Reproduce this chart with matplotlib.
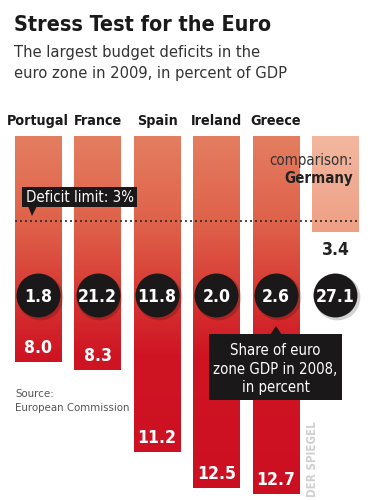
import numpy as np
import matplotlib
matplotlib.use("Agg")
import matplotlib.pyplot as plt
import matplotlib.font_manager as fm
from matplotlib.colors import LinearSegmentedColormap
from matplotlib.patches import Rectangle, Polygon
from matplotlib.transforms import Affine2D

# ---------------- data ----------------
countries = ["Portugal", "France", "Spain", "Ireland", "Greece"]
deficits = [8.0, 8.3, 11.2, 12.5, 12.7]          # budget deficit 2009, % of GDP
gdp_share = [1.8, 21.2, 11.8, 2.0, 2.6]          # share of euro zone GDP 2008, %
germany_deficit = 3.4
germany_share = 27.1
deficit_limit = 3.0

# ---------------- fonts ----------------
ttf = fm.fontManager.ttflist
if any(f.name == "DejaVu Sans" and f.stretch == "condensed" for f in ttf):
    FONT = dict(family="DejaVu Sans", stretch="condensed")
else:
    FONT = dict(family="Roboto")

W, H = 381, 500
fig = plt.figure(figsize=(W / 100, H / 100), dpi=100)
fig.patch.set_facecolor("white")
PX = Affine2D().scale(1 / W, -1 / H).translate(0, 1) + fig.transFigure

ax = fig.add_axes([0, 0, 1, 1])
ax.axis("off")

bar_w = 0.78
xs = np.arange(len(countries))

cmap = LinearSegmentedColormap.from_list(
    "bars",
    [(0.0, "#e47e60"), (0.25, "#df6049"), (0.45, "#d63431"), (0.6, "#cf1524"), (1.0, "#cc0e21")],
)
grad = np.linspace(0, 1, 256).reshape(-1, 1)

bars = ax.bar(xs, deficits, width=bar_w, bottom=0, color="none", edgecolor="none")
for b in bars:
    im = ax.imshow(grad, cmap=cmap, aspect="auto",
                   extent=(b.get_x(), b.get_x() + b.get_width(), 12.91, 0),
                   origin="upper", interpolation="bilinear", zorder=1)
    im.set_clip_path(b)

gcmap = LinearSegmentedColormap.from_list("ger", ["#f3b7a0", "#eea085"])
gbar = ax.bar([5], [germany_deficit], width=bar_w, bottom=0, color="none", edgecolor="none")[0]
gim = ax.imshow(np.linspace(0, 1, 64).reshape(-1, 1), cmap=gcmap, aspect="auto",
                extent=(gbar.get_x(), gbar.get_x() + gbar.get_width(), germany_deficit, 0),
                origin="upper", zorder=1)
gim.set_clip_path(gbar)
ax.set_xlim(-0.639, 5.765)
ax.set_ylim(12.91, -4.82)

# deficit limit line
ax.hlines(deficit_limit, -bar_w / 2, 5 + bar_w / 2, colors="#2a2a2a",
          linestyles=(0, (1.2, 1.8)), linewidth=1.2, zorder=3)

# country labels
for x, c in zip(xs, countries):
    ax.text(x, -0.39, c, ha="center", va="baseline", fontsize=10.3,
            fontweight="bold", color="#1a1a1a", **FONT)

# deficit values at bar ends
for x, d in zip(xs, deficits):
    ax.text(x, d - 0.32, f"{d:.1f}", ha="center", va="baseline", fontsize=12.6,
            fontweight="bold", color="white", zorder=4, **FONT)
ax.text(5, germany_deficit + 0.82, f"{germany_deficit:.1f}", ha="center", va="baseline",
        fontsize=12.6, fontweight="bold", color="#222222", zorder=4, **FONT)

# GDP share circles
circ_y = 5.64
allx = list(xs) + [5]
alls = gdp_share + [germany_share]
ax.scatter(np.array(allx) + 0.03, [circ_y + 0.08] * 6, s=1080, color="#000000",
           alpha=0.18, zorder=4, linewidths=0)
ax.scatter(allx, [circ_y] * 6, s=1000, color="#1b1819", zorder=5, linewidths=0)
for x, s in zip(allx, alls):
    ax.text(x, circ_y, f"{s:.1f}", ha="center", va="center_baseline", fontsize=12.6,
            fontweight="bold", color="white", zorder=6, **FONT)

# Germany comparison label
ax.text(353, 165, "comparison:", transform=PX, ha="right", va="baseline",
        fontsize=10.8, color="#333333", zorder=4, **FONT)
ax.text(353, 183, "Germany", transform=PX, ha="right", va="baseline",
        fontsize=10.8, fontweight="bold", color="#222222", zorder=4, **FONT)

# deficit limit callout
fig.patches.append(Rectangle((22, 187), 115, 20, transform=PX, facecolor="#1b1819",
                             edgecolor="none", zorder=5))
fig.patches.append(Polygon([(28, 206), (37, 206), (32, 216)], closed=True, transform=PX,
                           facecolor="#1b1819", edgecolor="none", zorder=5))
fig.text(79.5, 202, "Deficit limit: 3%", transform=PX, ha="center", va="baseline",
         fontsize=10.8, color="white", zorder=6, **FONT)

# share callout
fig.patches.append(Rectangle((209, 334), 133, 66, transform=PX, facecolor="#1b1819",
                             edgecolor="none", zorder=5))
fig.patches.append(Polygon([(270, 335), (282, 335), (276, 326)], closed=True, transform=PX,
                           facecolor="#1b1819", edgecolor="none", zorder=5))
for yb, line in zip([355, 374, 392], ["Share of euro", "zone GDP in 2008,", "in percent"]):
    fig.text(275.5, yb, line, transform=PX, ha="center", va="baseline", fontsize=10.7,
             color="white", zorder=6, **FONT)

# titles
fig.text(14, 31, "Stress Test for the Euro", transform=PX, ha="left", va="baseline",
         fontsize=15.4, fontweight="bold", color="#1a1a1a", **FONT)
fig.text(14, 57, "The largest budget deficits in the", transform=PX, ha="left",
         va="baseline", fontsize=11.8, color="#333333", **FONT)
fig.text(14, 78, "euro zone in 2009, in percent of GDP", transform=PX, ha="left",
         va="baseline", fontsize=11.8, color="#333333", **FONT)

# source
fig.text(15, 397, "Source:", transform=PX, ha="left", va="baseline", fontsize=8.2,
         color="#555555", **FONT)
fig.text(15, 411, "European Commission", transform=PX, ha="left", va="baseline",
         fontsize=8.2, color="#555555", **FONT)

fig.text(313, 497, "DER SPIEGEL", transform=PX, ha="center", va="bottom", rotation=90,
         fontsize=8.3, color="#d0d0d0", fontweight="bold", **FONT)

fig.savefig("out.png", dpi=100, facecolor="white")
